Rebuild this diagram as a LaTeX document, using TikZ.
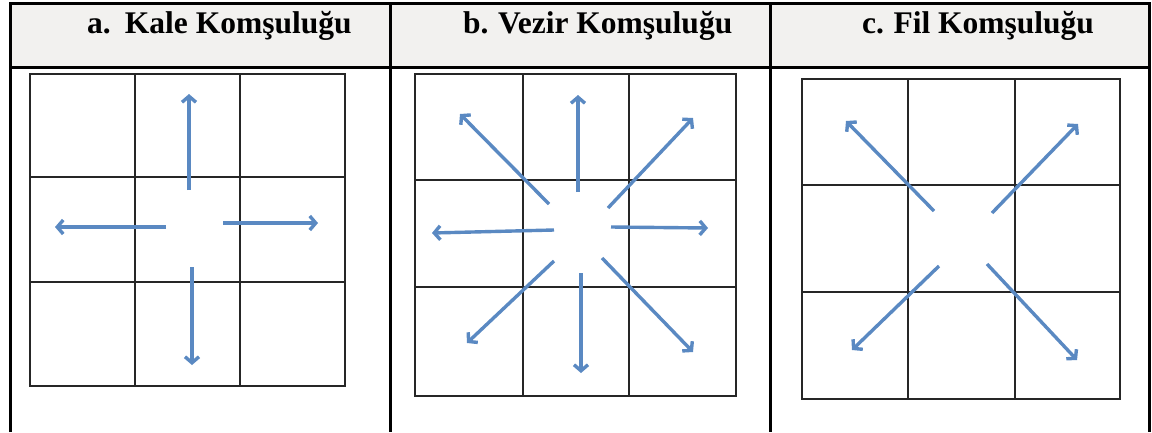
\documentclass[tikz,border=0pt]{standalone}
\usepackage{fontspec}
\setmainfont{Liberation Serif}
\definecolor{ArrBlue}{HTML}{5A89C2}
\definecolor{HeadGray}{HTML}{F2F1EF}
\usetikzlibrary{arrows.meta}

\begin{document}
\begin{tikzpicture}[x=1pt, y=-1pt,
    frame/.style={line width=3pt, black},
    gridln/.style={line width=2pt, draw=black!85},
    arr/.style={-{Straight Barb[length=6pt,width=14pt]}, line width=3.4pt, ArrBlue},
    head/.style={font=\fontsize{31.5}{36}\selectfont\bfseries, anchor=base west, inner sep=0pt}]
  \useasboundingbox (0,0) rectangle (1152,432);
  % table
  \fill[HeadGray] (10,3) rectangle (1149,67);
  \draw[frame] (10,432) -- (10,3) -- (1149,3) -- (1149,432);
  \draw[frame] (10,67) -- (1149,67);
  \draw[frame] (390,3) -- (390,432);
  \draw[frame] (770,3) -- (770,432);
  \node[head] (ta) at (87,33) {a.\hspace{0.45em}Kale Komşuluğu};
  \node[head] (tb) at (463,33) {b.\hspace{0.3em}Vezir Komşuluğu};
  \node[head] (tc) at (862,33) {c.\hspace{0.3em}Fil Komşuluğu};
  % grids
  \draw[gridln] (30,74) rectangle (345,386) (135,74) -- (135,386) (240,74) -- (240,386)
    (30,177) -- (345,177) (30,282) -- (345,282);
  \draw[gridln] (415,74) rectangle (736,396) (523,74) -- (523,396) (629,74) -- (629,396)
    (415,180) -- (736,180) (415,287) -- (736,287);
  \draw[gridln] (802,79) rectangle (1120,399) (908,79) -- (908,399) (1015,79) -- (1015,399)
    (802,185) -- (1120,185) (802,292) -- (1120,292);
  % arrows
  \foreach \nm/\sx/\sy/\ex/\ey in {an/189/190/189/94, as/192/267/192/365,
      aw/166/227/55/227, ae/223/223/318/223,
      bn/578/192/578/95, bs/581/273/581/373, bw/554/230/432/233, be/611/227/708/228,
      bnw/549/204/460/114, bne/608/208/693/118, bsw/554/261/467/343, bse/602/258/693/352,
      cnw/934/211/846/121, cne/992/213/1078/124, csw/939/266/852/350, cse/987/264/1077/360} {
    \coordinate (\nm0) at (\sx,\sy);
    \coordinate (\nm1) at (\ex,\ey);
    \draw[arr] (\nm0) -- (\nm1);
  }
\end{tikzpicture}
\end{document}
